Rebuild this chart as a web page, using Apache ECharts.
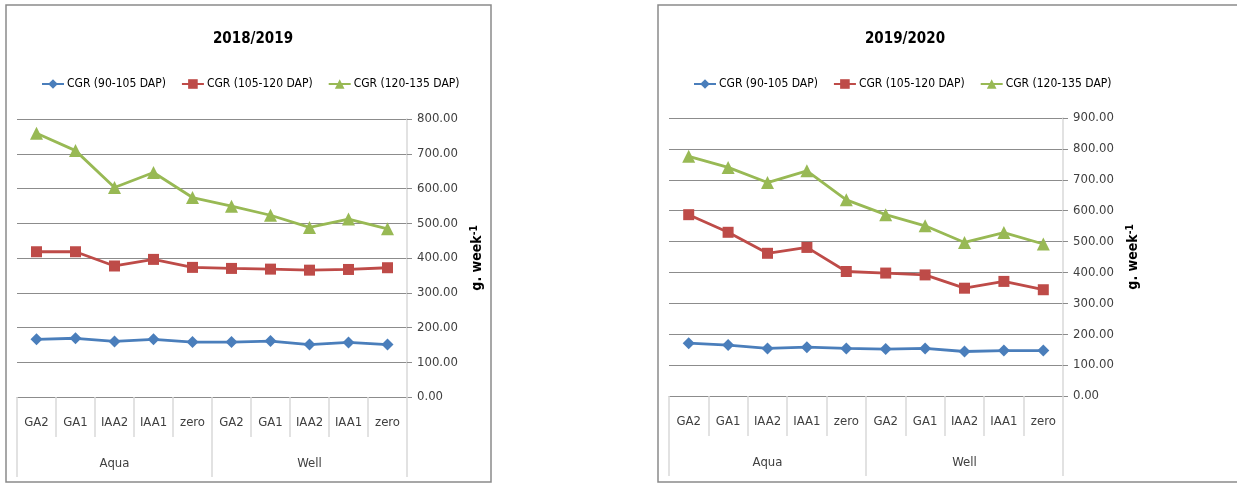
<!DOCTYPE html>
<html>
<head>
<meta charset="utf-8">
<script src="https://cdn.jsdelivr.net/npm/echarts@6/dist/echarts.min.js"></script>
<style>
html,body{margin:0;padding:0;background:#fff;}
#c{width:1237px;height:483px;}
</style>
</head>
<body>
<div id="c"></div>
<script>
var categories = ['GA2','GA1','IAA2','IAA1','zero','GA2','GA1','IAA2','IAA1','zero'];
var groups = ['Aqua','Well'];
var seriesNames = ['CGR (90-105 DAP)','CGR (105-120 DAP)','CGR (120-135 DAP)'];
var titles = ['2018/2019','2019/2020'];
var yMax = [800, 900];

var cgr90_2018 = [166,169,160,166,158,158,161,151,157,151];
var cgr105_2018 = [418,418,377,396,373,370,368,365,367,372];
var cgr120_2018 = [759,709,603,646,574,549,523,488,512,484];

var cgr90_2019 = [171,165,154,158,154,152,154,144,147,147];
var cgr105_2019 = [587,530,462,481,403,398,392,349,371,344];
var cgr120_2019 = [776,740,691,729,635,587,551,497,529,492];

var FONT = "'DejaVu Sans Condensed','Liberation Sans Narrow',sans-serif";
var colors = ['#4A7EBB','#BE4B48','#98B954'];
var symbols = ['diamond','rect','triangle'];
var symSizes = [12,11,13];

var grids = [
  {left:17, top:119, width:390, height:278},
  {left:669, top:118, width:394, height:278}
];

var xAxes = [], yAxes = [], series = [];
var data = [[cgr90_2018,cgr105_2018,cgr120_2018],[cgr90_2019,cgr105_2019,cgr120_2019]];

for (var g = 0; g < 2; g++) {
  xAxes.push({
    type:'category', gridIndex:g, data:categories, boundaryGap:true, position:'bottom',
    axisLine:{show:true, lineStyle:{color:'#8c8c8c', width:1}},
    axisTick:{show:true, length:40, alignWithLabel:false, lineStyle:{color:'#d9d9d9', width:1.5}},
    axisLabel:{interval:0, margin:19, color:'#404040', fontSize:13, fontFamily:FONT},
    splitLine:{show:false}
  });
  xAxes.push({
    type:'category', gridIndex:g, data:groups, boundaryGap:true, position:'bottom', offset:40,
    axisLine:{show:false},
    axisTick:{show:true, length:40, lineStyle:{color:'#d9d9d9', width:1.5}},
    axisLabel:{interval:0, margin:20, color:'#404040', fontSize:13, fontFamily:FONT},
    splitLine:{show:false}
  });
  yAxes.push({
    type:'value', gridIndex:g, position:'right', min:0, max:yMax[g], interval:100,
    axisLine:{show:true, lineStyle:{color:'#d9d9d9', width:1.5}},
    axisTick:{show:true, length:5, lineStyle:{color:'#8c8c8c'}},
    axisLabel:{margin:10, color:'#404040', fontSize:13, fontFamily:FONT,
      formatter:function(v){return v.toFixed(2);}},
    splitLine:{show:true, lineStyle:{color:'#8c8c8c', width:1}},
    name:'g. week{sup|-1}', nameLocation:'middle', nameRotate:90, nameGap:62,
    nameTextStyle:{fontWeight:'bold', fontSize:14, color:'#000', fontFamily:FONT,
      rich:{sup:{fontSize:10, fontWeight:'bold', color:'#000', fontFamily:FONT, verticalAlign:'top', padding:[0,0,7,0]}}}
  });
  for (var s = 0; s < 3; s++) {
    series.push({
      name:seriesNames[s], type:'line', xAxisIndex:g*2, yAxisIndex:g,
      data:data[g][s], symbol:symbols[s], symbolSize:symSizes[s], showAllSymbol:true,
      lineStyle:{color:colors[s], width:2.8}, itemStyle:{color:colors[s]},
      animation:false, z:3+s
    });
  }
}

var legendBase = {data:seriesNames, top:73, itemWidth:22, itemHeight:12, itemGap:15,
  textStyle:{fontSize:12, color:'#000', fontFamily:FONT, padding:[0,0,0,-2]}};

var chart = echarts.init(document.getElementById('c'));
chart.setOption({
  backgroundColor:'#fff',
  animation:false,
  title:[
    {text:titles[0], left:248, top:27, textAlign:'center', textStyle:{fontSize:15, fontWeight:'bold', color:'#000', fontFamily:FONT}},
    {text:titles[1], left:900, top:27, textAlign:'center', textStyle:{fontSize:15, fontWeight:'bold', color:'#000', fontFamily:FONT}}
  ],
  legend:[
    Object.assign({}, legendBase, {left:36}),
    Object.assign({}, legendBase, {left:688})
  ],
  grid:grids,
  xAxis:xAxes,
  yAxis:yAxes,
  series:series,
  graphic:[
    {type:'rect', shape:{x:6, y:5, width:485, height:477}, style:{fill:'none', stroke:'#8a8a8a', lineWidth:1.5}, silent:true},
    {type:'rect', shape:{x:658, y:5, width:590, height:477}, style:{fill:'none', stroke:'#8a8a8a', lineWidth:1.5}, silent:true}
  ]
});
</script>
</body>
</html>
